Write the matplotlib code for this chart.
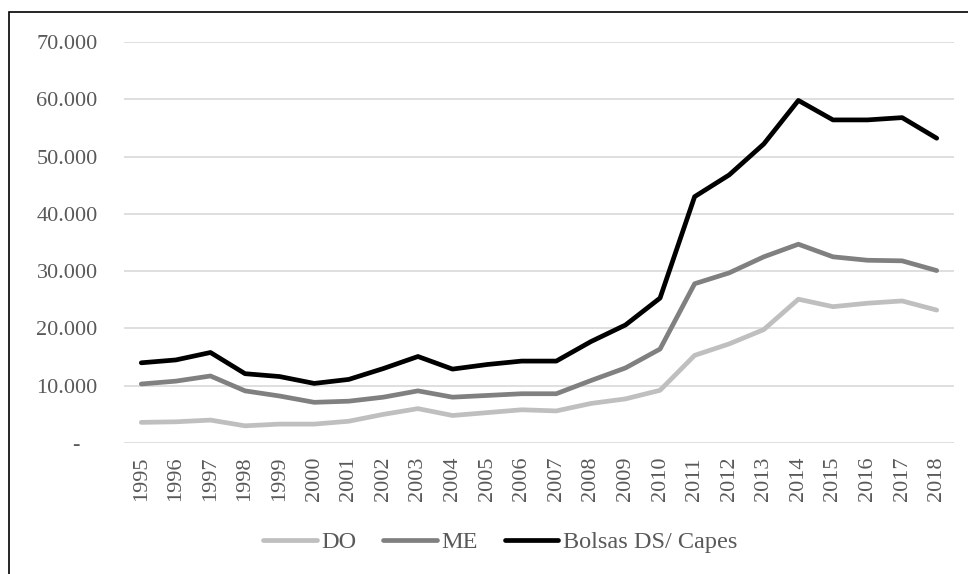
import matplotlib
matplotlib.use("Agg")
import matplotlib.pyplot as plt
from matplotlib.ticker import FuncFormatter
from matplotlib.patches import Rectangle

plt.rcParams['font.family'] = ['Liberation Serif', 'DejaVu Serif']

anos = list(range(1995, 2019))
do = [3600, 3700, 4000, 3000, 3300, 3300, 3800, 5000, 6000, 4800, 5300, 5800,
      5600, 6900, 7700, 9200, 15300, 17300, 19800, 25100, 23800, 24400, 24800, 23200]
me = [10300, 10800, 11700, 9100, 8200, 7100, 7300, 8000, 9100, 8000, 8300, 8600,
      8600, 10900, 13100, 16400, 27800, 29700, 32500, 34700, 32500, 31900, 31800, 30100]
bolsas = [14000, 14500, 15800, 12100, 11600, 10400, 11100, 13000, 15100, 12900, 13700, 14300,
          14300, 17700, 20600, 25300, 43000, 46800, 52200, 59800, 56400, 56400, 56800, 53200]

fig = plt.figure(figsize=(9.68, 5.74), dpi=100)
ax = fig.add_axes([124 / 968, 1 - 443 / 574, (954 - 124) / 968, (443 - 42) / 574])

x = list(range(len(anos)))
ax.plot(x, do, color='#BFBFBF', lw=3.4, label='DO', solid_capstyle='round')
ax.plot(x, me, color='#808080', lw=3.4, label='ME', solid_capstyle='round')
ax.plot(x, bolsas, color='black', lw=3.4, label='Bolsas DS/ Capes', solid_capstyle='round')

ax.set_xlim(-0.5, len(anos) - 0.5)
ax.set_ylim(0, 70000)
ax.set_yticks(range(0, 70001, 10000))
# formato contábil: zero aparece como traço
ax.yaxis.set_major_formatter(FuncFormatter(
    lambda v, p: '-   ' if v == 0 else f'{int(v):,}'.replace(',', '.')))
ax.set_xticks(x)
ax.set_xticklabels([str(a) for a in anos], rotation=90)

ax.grid(axis='y', color='#D9D9D9', lw=1.2)
ax.set_axisbelow(True)
for s in ax.spines.values():
    s.set_visible(False)
ax.tick_params(length=0, colors='#595959', labelsize=16)
ax.tick_params(axis='y', pad=19)
ax.tick_params(axis='x', pad=10)

leg = fig.legend(loc='center', bbox_to_anchor=(0.517, 1 - 542 / 574), ncol=3,
                 frameon=False, fontsize=17.5, handlelength=2.2, handletextpad=0.2,
                 columnspacing=1.1)
for t in leg.get_texts():
    t.set_color('#595959')

# moldura do gráfico
fig.patches.append(Rectangle((9 / 968, -0.1), 1.2, 1 - 12 / 574 + 0.1,
                             transform=fig.transFigure, fill=False,
                             edgecolor='black', lw=1.2))

fig.savefig('out.png', dpi=100)
